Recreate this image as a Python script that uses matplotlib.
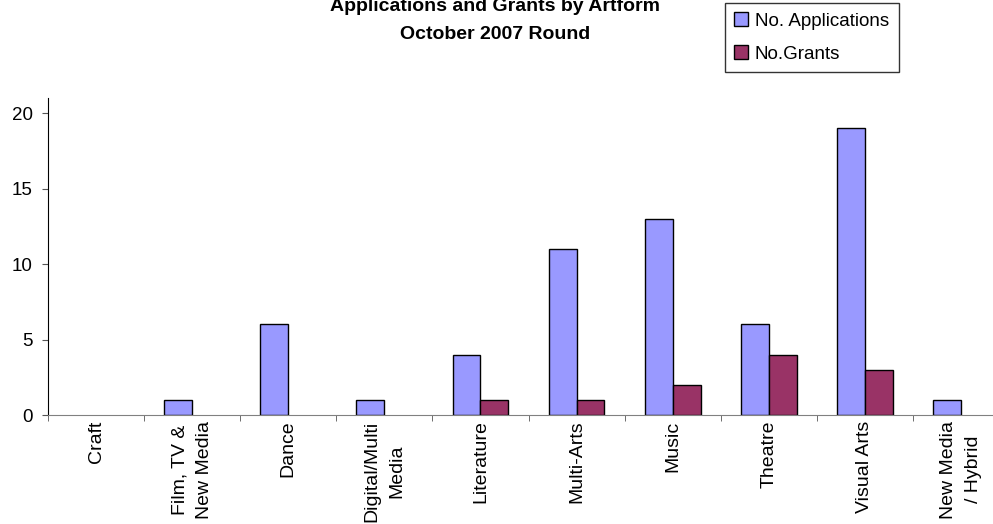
import matplotlib
matplotlib.use("Agg")
import matplotlib.pyplot as plt
from matplotlib.patches import Patch
import numpy as np

plt.rcParams["font.family"] = ["Liberation Sans", "DejaVu Sans"]

categories = ["Craft", "Film, TV &\nNew Media", "Dance", "Digital/Multi\nMedia",
              "Literature", "Multi-Arts", "Music", "Theatre", "Visual Arts",
              "New Media\n/ Hybrid"]
applications = [0, 1, 6, 1, 4, 11, 13, 6, 19, 1]
grants = [0, 0, 0, 0, 1, 1, 2, 4, 3, 0]
series_names = ["No. Applications", "No.Grants"]
colors = ["#9999FF", "#993366"]

W, H = 993, 524
fig = plt.figure(figsize=(W / 100, H / 100), dpi=100)
# plot area runs past the right edge, as in the (cropped) original
ax = fig.add_axes([48 / W, 109 / H, 961 / W, 317 / H])

x = np.arange(len(categories))
bw = 0.29
# empty bars get no outline (excel draws nothing for zero)
lw_a = [1 if v else 0 for v in applications]
lw_g = [1 if v else 0 for v in grants]
ax.bar(x - bw / 2, applications, bw, color=colors[0], edgecolor="black",
       linewidth=lw_a)
ax.bar(x + bw / 2, grants, bw, color=colors[1], edgecolor="black",
       linewidth=lw_g)

ax.set_xlim(-0.5, len(categories) - 0.5)
ax.set_ylim(0, 21)
ax.set_yticks([0, 5, 10, 15, 20])
ax.set_xticks(x)
ax.set_xticklabels(categories, rotation=90, fontsize=14, va="top",
                   ha="center", multialignment="center")
for t in ax.get_xticklabels():
    t.set_linespacing(1.6)
ax.set_xticks(np.arange(-0.5, len(categories), 1), minor=True)
ax.tick_params(axis="x", which="major", length=0, pad=4)
ax.tick_params(axis="x", which="minor", length=4, color="#555555")
ax.tick_params(axis="y", length=4, color="#555555", labelsize=13.5, pad=7)

for s in ["top", "right"]:
    ax.spines[s].set_visible(False)
ax.spines["bottom"].set_color("#808080")
ax.spines["left"].set_color("black")

fig.text(495 / W, 1 - 11 / H, "Applications and Grants by Artform",
         ha="center", va="baseline", fontsize=14, fontweight="bold")
fig.text(495 / W, 1 - 39 / H, "October 2007 Round",
         ha="center", va="baseline", fontsize=14, fontweight="bold")

handles = [Patch(facecolor=c, edgecolor="black", linewidth=1) for c in colors]
leg = fig.legend(handles, series_names, loc="upper left",
                 bbox_to_anchor=(725 / W, 1 - 3 / H),
                 fontsize=13.5, frameon=True, fancybox=False,
                 handlelength=0.7, handleheight=0.7, handletextpad=0.4,
                 labelspacing=0.85, borderpad=0.5, borderaxespad=0)
leg.get_frame().set_edgecolor("black")
leg.get_frame().set_linewidth(1)

plt.savefig("out.png", dpi=100)
